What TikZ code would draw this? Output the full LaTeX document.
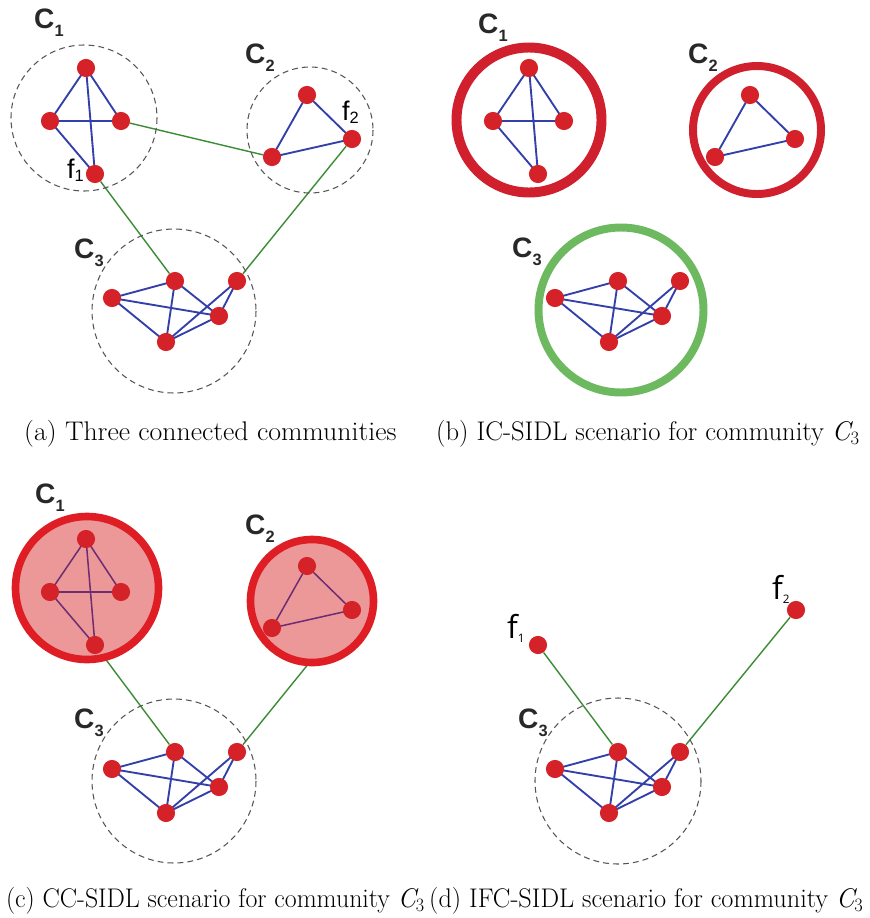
\documentclass[tikz,border=0pt]{standalone}
\usepackage{fontspec}
\newfontfamily\lblfont{Liberation Sans}
\newfontfamily\thinfont{Open Sans}

\definecolor{nodered}{RGB}{213,33,40}
\definecolor{edgeblue}{RGB}{52,64,170}
\definecolor{edgepurple}{RGB}{110,45,115}
\definecolor{linkgreen}{RGB}{60,140,55}
\definecolor{ringgray}{RGB}{85,85,85}
\definecolor{ringred}{RGB}{208,32,46}
\definecolor{discred}{RGB}{222,30,36}
\definecolor{discfill}{RGB}{236,152,152}
\definecolor{ringgreen}{RGB}{108,185,95}
\definecolor{labelgray}{RGB}{40,40,40}

\pgfdeclarelayer{paper}
\pgfdeclarelayer{links}
\pgfdeclarelayer{discs}
\pgfdeclarelayer{edges}
\pgfsetlayers{paper,links,discs,edges,main}

% community label C_k and gateway label f_k
\newcommand\commname[1]{{\lblfont\bfseries\fontsize{24}{24}\selectfont C}{\lblfont\bfseries\fontsize{14}{14}\selectfont\raisebox{-7pt}{#1}}}
\newcommand\fname[1]{{\lblfont\fontsize{23}{23}\selectfont f}{\lblfont\fontsize{14}{14}\selectfont\raisebox{-3pt}{#1}}}
\newcommand\fthin[1]{{\thinfont\fontsize{27}{27}\selectfont f}{\thinfont\fontsize{10}{10}\selectfont\raisebox{-4pt}{#1}}}
\newcommand\capfont{\fontsize{23}{27}\selectfont}
\newcommand\capC{{\itshape C}\textsubscript{3}}

% the three small graphs: #1 name prefix, #2 edge style
\newcommand\cliqueOne[2]{%
  \node[vtx] (#1t) at (86,68) {};
  \node[vtx] (#1l) at (50,121) {};
  \node[vtx] (#1r) at (121,121) {};
  \node[vtx] (#1b) at (95,174) {};
  \begin{pgfonlayer}{edges}
    \draw[#2] (#1t.center)--(#1l.center) (#1t.center)--(#1r.center) (#1t.center)--(#1b.center)
              (#1l.center)--(#1r.center) (#1l.center)--(#1b.center);
  \end{pgfonlayer}}
\newcommand\cliqueTwo[2]{%
  \node[vtx] (#1t) at (307,95) {};
  \node[vtx] (#1r) at (352,139) {};
  \node[vtx] (#1l) at (272,157) {};
  \begin{pgfonlayer}{edges}
    \draw[#2] (#1t.center)--(#1l.center) (#1t.center)--(#1r.center) (#1l.center)--(#1r.center);
  \end{pgfonlayer}}
\newcommand\cliqueThree[2]{%
  \node[vtx] (#1t) at (175,281) {};
  \node[vtx] (#1q) at (237,281) {};
  \node[vtx] (#1l) at (112,298) {};
  \node[vtx] (#1m) at (219,316) {};
  \node[vtx] (#1b) at (166,342) {};
  \begin{pgfonlayer}{edges}
    \draw[#2] (#1l.center)--(#1t.center) (#1l.center)--(#1m.center) (#1l.center)--(#1b.center)
              (#1t.center)--(#1b.center) (#1t.center)--(#1m.center) (#1q.center)--(#1m.center)
              (#1q.center)--(#1b.center) (#1b.center)--(#1m.center);
  \end{pgfonlayer}}

\begin{document}
\begin{tikzpicture}[x=0.03cm,y=-0.03cm,
  vtx/.style={circle,fill=nodered,inner sep=0pt,minimum size=15.5pt},
  tie/.style={draw=edgeblue,line width=1.6pt},
  tiedisc/.style={draw=edgepurple,line width=1.3pt},
  link/.style={draw=linkgreen,line width=1.2pt},
  ring/.style={draw=ringgray,line width=0.9pt,dash pattern=on 5pt off 3.5pt},
  clab/.style={anchor=base west,inner sep=0pt,text=labelgray},
  flab/.style={anchor=base west,inner sep=0pt,text=black},
  caption/.style={inner sep=0pt,font=\capfont,text=black}]

\useasboundingbox (0,0) rectangle (870,918);
\begin{pgfonlayer}{paper}
  \fill[white] (0,0) rectangle (870,918);
\end{pgfonlayer}
\clip (0,0) rectangle (870,918);

% ---------- (a) three connected communities ----------
\begin{scope}
  \draw[ring] (84,118) circle[radius=73];
  \draw[ring] (310,130) circle[radius=63];
  \draw[ring] (174,311) circle[radius=82];
  \cliqueOne{aA}{tie}
  \cliqueTwo{aB}{tie}
  \cliqueThree{aC}{tie}
  \begin{pgfonlayer}{links}
    \draw[link] (aAr)--(aBl) (aAb)--(aCt) (aBr)--(aCq);
  \end{pgfonlayer}
\end{scope}
\node[clab] (aL1) at (34,28) {\commname{1}};
\node[clab] (aL2) at (245,63) {\commname{2}};
\node[clab] (aL3) at (74,258) {\commname{3}};
\node[flab] (aF1) at (67,178) {\fname{1}};
\node[flab] (aF2) at (342,120) {\fname{2}};

% ---------- (b) IC-SIDL ----------
\begin{scope}[shift={(443,0)}]
  \draw[draw=ringred,line width=8.5pt] (86,120) circle[radius=72.5];
  \draw[draw=ringred,line width=6.8pt] (314,130) circle[radius=64];
  \draw[draw=ringgreen,line width=6.8pt] (178,310) circle[radius=82.5];
  \cliqueOne{bA}{tie}
  \cliqueTwo{bB}{tie}
  \cliqueThree{bC}{tie}
\end{scope}
\node[clab] (bL1) at (478,33) {\commname{1}};
\node[clab] (bL2) at (688,63) {\commname{2}};
\node[clab] (bL3) at (512,257) {\commname{3}};

% ---------- (c) CC-SIDL ----------
\begin{scope}[shift={(0,471)}]
  \begin{pgfonlayer}{discs}
    \filldraw[draw=discred,fill=discfill,line width=6.5pt] (87,117) circle[radius=71.5];
    \filldraw[draw=discred,fill=discfill,line width=6.5pt] (312,130) circle[radius=61.5];
  \end{pgfonlayer}
  \draw[ring] (174,310) circle[radius=82];
  \cliqueOne{cA}{tiedisc}
  \cliqueTwo{cB}{tiedisc}
  \cliqueThree{cC}{tie}
  \begin{pgfonlayer}{links}
    \draw[link] (cAb)--(cCt) (cBr)--(cCq);
  \end{pgfonlayer}
\end{scope}
\node[clab] (cL1) at (35,503) {\commname{1}};
\node[clab] (cL2) at (245,534) {\commname{2}};
\node[clab] (cL3) at (74,728) {\commname{3}};

% ---------- (d) IFC-SIDL ----------
\begin{scope}[shift={(443,471)}]
  \draw[ring] (175,310) circle[radius=83];
  \node[vtx] (dF1) at (95,174) {};
  \node[vtx] (dF2) at (353,139) {};
  \cliqueThree{dC}{tie}
  \begin{pgfonlayer}{links}
    \draw[link] (dF1)--(dCt) (dF2)--(dCq);
  \end{pgfonlayer}
\end{scope}
\node[clab] (dL3) at (518,728) {\commname{3}};
\node[flab] (dT1) at (507,638) {\fthin{1}};
\node[flab] (dT2) at (772,599) {\fthin{2}};

% ---------- captions ----------
\node[caption,anchor=base west] (capA) at (24,440) {\scalebox{1.03}[1]{(a) Three connected communities}};
\node[caption,anchor=base west] (capB) at (436,440) {\scalebox{0.985}[1]{(b) IC-SIDL scenario for community \capC}};
\node[caption,anchor=base east] (capC) at (425,907) {\scalebox{0.96}[1]{(c) CC-SIDL scenario for community \capC}};
\node[caption,anchor=base west] (capD) at (429,907) {\scalebox{0.975}[1]{(d) IFC-SIDL scenario for community \capC}};
\end{tikzpicture}
\end{document}
